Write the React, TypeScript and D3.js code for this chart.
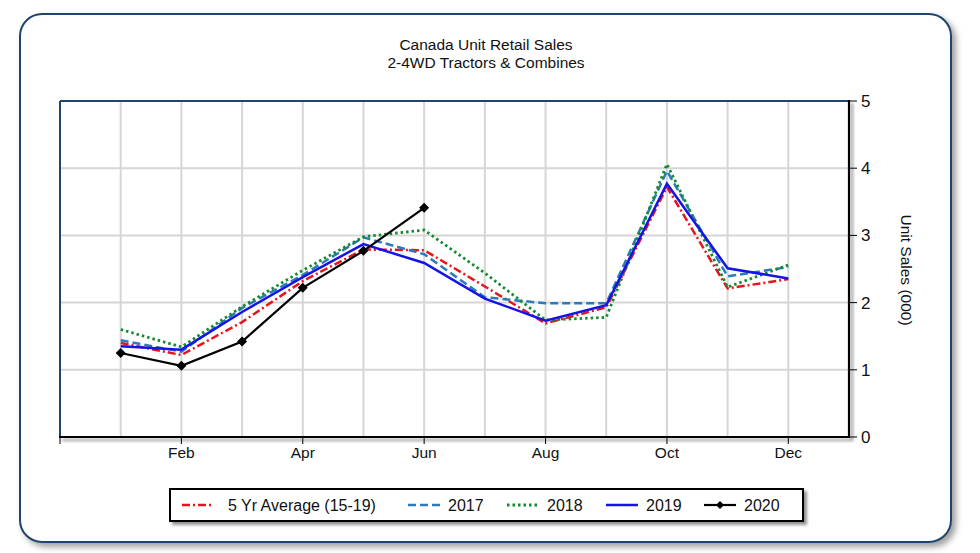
import React from "react";
import * as d3 from "d3";

const months = ["Jan", "Feb", "Mar", "Apr", "May", "Jun", "Jul", "Aug", "Sep", "Oct", "Nov", "Dec"];
const tickMonths = [2, 4, 6, 8, 10, 12];
const yTicks = [0, 1, 2, 3, 4, 5];

const avg5 = [1.40, 1.22, 1.71, 2.32, 2.79, 2.78, 2.24, 1.69, 1.93, 3.72, 2.21, 2.35];
const s2017 = [1.44, 1.27, 1.92, 2.41, 2.97, 2.72, 2.08, 1.99, 1.99, 3.96, 2.39, 2.53];
const s2018 = [1.60, 1.34, 1.94, 2.48, 2.98, 3.08, 2.44, 1.74, 1.78, 4.06, 2.23, 2.56];
const s2019 = [1.35, 1.30, 1.86, 2.38, 2.87, 2.59, 2.06, 1.73, 1.96, 3.77, 2.51, 2.36];
const s2020 = [1.25, 1.06, 1.42, 2.22, 2.77, 3.41];

const seriesNames = ["5 Yr Average (15-19)", "2017", "2018", "2019", "2020"];

type Style = { color: string; dash: string; width: number; marker?: boolean };
const styles: Style[] = [
  { color: "#e8141c", dash: "8,3,2,3", width: 2.5 },
  { color: "#2b7bba", dash: "8,4", width: 2.5 },
  { color: "#138a2e", dash: "2.5,3", width: 2.8 },
  { color: "#1414e6", dash: "", width: 2.5 },
  { color: "#000000", dash: "", width: 2.2, marker: true },
];

const FONT = "Arial, 'Liberation Sans', sans-serif";

export default function App() {
  const W = 980, H = 553;
  const left = 60, right = 849, top = 101, bottom = 437;
  const x = d3.scaleLinear().domain([0, 13]).range([left, right]);
  const y = d3.scaleLinear().domain([0, 5]).range([bottom, top]);

  const allSeries = [avg5, s2017, s2018, s2019, s2020];
  const line = d3
    .line<number>()
    .x((_, i) => x(i + 1))
    .y((d) => y(d));
  const diamond = d3.symbol().type(d3.symbolSquare).size(50)();

  const legendItems = [
    { lx: 182, tx: 228 },
    { lx: 408, tx: 448 },
    { lx: 507, tx: 547 },
    { lx: 606, tx: 646 },
    { lx: 704, tx: 744 },
  ];
  const legY = 505;

  return (
    <svg
      width={W}
      height={H}
      style={{ position: "absolute", left: 0, top: 0, background: "#fff" }}
      fontFamily={FONT}
    >
      <defs>
        <filter id="shadow" x="-5%" y="-5%" width="115%" height="115%">
          <feDropShadow dx="4" dy="4" stdDeviation="3" floodColor="#777" floodOpacity="0.7" />
        </filter>
        <filter id="shadow2" x="-5%" y="-20%" width="115%" height="150%">
          <feDropShadow dx="3" dy="3" stdDeviation="1.5" floodColor="#666" floodOpacity="0.7" />
        </filter>
      </defs>
      <rect x={0} y={0} width={W} height={H} fill="#fff" />
      <rect
        x={20}
        y={14}
        width={931}
        height={528}
        rx={22}
        ry={22}
        fill="#fff"
        stroke="#1f4570"
        strokeWidth={2}
        filter="url(#shadow)"
      />

      {/* Title */}
      <text x={486} y={50} textAnchor="middle" fontSize={15.5} fill="#111">
        Canada Unit Retail Sales
      </text>
      <text x={486} y={68} textAnchor="middle" fontSize={15.5} fill="#111">
        2-4WD Tractors &amp; Combines
      </text>

      {/* Grid */}
      {yTicks.slice(1, 5).map((t) => (
        <line key={"h" + t} x1={left} x2={right} y1={y(t)} y2={y(t)} stroke="#d6d6d6" strokeWidth={2} />
      ))}
      {months.map((m, i) => (
        <line key={"v" + m} x1={x(i + 1)} x2={x(i + 1)} y1={top} y2={bottom} stroke="#d6d6d6" strokeWidth={2} />
      ))}

      {/* Plot border */}
      <line x1={left} x2={left} y1={top} y2={bottom} stroke="#1f4570" strokeWidth={2} />
      <line x1={left} x2={right} y1={top} y2={top} stroke="#1f4570" strokeWidth={2} />
      <g filter="url(#shadow2)">
        <line x1={right} x2={right} y1={top - 1} y2={bottom + 1} stroke="#000" strokeWidth={2.2} />
        <line x1={left - 1} x2={right + 1} y1={bottom} y2={bottom} stroke="#000" strokeWidth={2.2} />
      </g>

      {/* X ticks */}
      {[0, ...tickMonths].map((mIdx) => (
        <line key={"xt" + mIdx} x1={x(mIdx)} x2={x(mIdx)} y1={bottom} y2={bottom + 7} stroke="#000" strokeWidth={1} />
      ))}
      {tickMonths.map((mIdx) => (
        <text key={"xl" + mIdx} x={x(mIdx)} y={458} textAnchor="middle" fontSize={15.5} fill="#111">
          {months[mIdx - 1]}
        </text>
      ))}

      {/* Y ticks */}
      {yTicks.map((t) => (
        <g key={"yt" + t}>
          <line x1={right} x2={right + 8} y1={y(t)} y2={y(t)} stroke="#000" strokeWidth={1} />
          <text x={861} y={y(t) + 6} fontSize={17} fill="#111">
            {t}
          </text>
        </g>
      ))}
      <text
        transform={`translate(901,270) rotate(90)`}
        textAnchor="middle"
        fontSize={15.5}
        fill="#111"
      >
        Unit Sales (000)
      </text>

      {/* Series */}
      {allSeries.map((data, k) => (
        <g key={"s" + k}>
          <path
            d={line(data) || ""}
            fill="none"
            stroke={styles[k].color}
            strokeWidth={styles[k].width}
            strokeDasharray={styles[k].dash || undefined}
            strokeLinejoin="miter"
          />
          {styles[k].marker &&
            data.map((v, i) => (
              <path key={i} d={diamond || ""} transform={`translate(${x(i + 1)},${y(v)}) rotate(45)`} fill="#000" />
            ))}
        </g>
      ))}

      {/* Legend */}
      <rect x={170} y={489} width={633} height={32} fill="#fff" stroke="#000" strokeWidth={2} filter="url(#shadow2)" />
      {seriesNames.map((name, k) => {
        const it = legendItems[k];
        const st = styles[k];
        return (
          <g key={"lg" + k}>
            <line
              x1={it.lx}
              x2={it.lx + 32}
              y1={legY}
              y2={legY}
              stroke={st.color}
              strokeWidth={st.width}
              strokeDasharray={st.dash || undefined}
            />
            {st.marker && (
              <path d={diamond || ""} transform={`translate(${it.lx + 16},${legY}) rotate(45) scale(0.8)`} fill="#000" />
            )}
            <text x={it.tx} y={legY + 5.5} fontSize={16} fill="#111">
              {name}
            </text>
          </g>
        );
      })}
    </svg>
  );
}
